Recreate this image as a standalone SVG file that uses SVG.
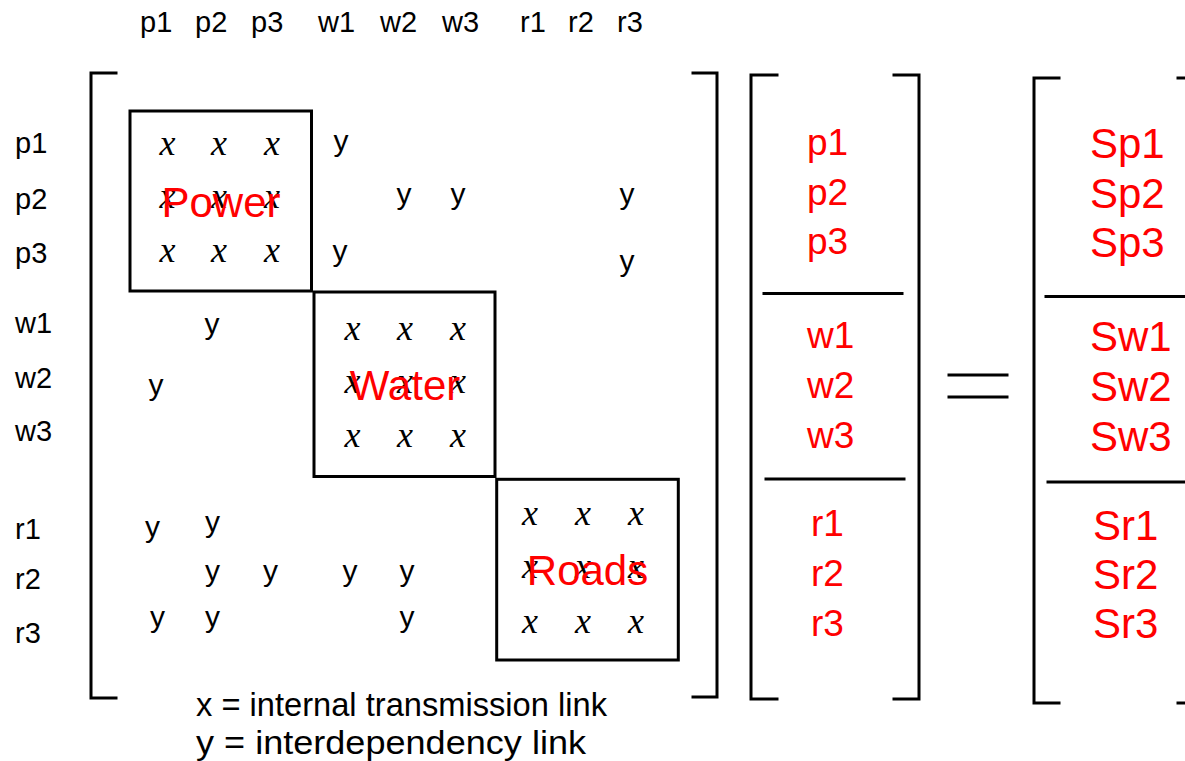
<svg xmlns="http://www.w3.org/2000/svg" width="1185" height="761" viewBox="0 0 1185 761">
<style>
.ln{stroke:#000;stroke-width:3;fill:none;stroke-linecap:square}
.bx{stroke:#000;stroke-width:3;fill:none}
.lb{font-family:"Liberation Sans",Arial,sans-serif;font-size:29px;fill:#000}
.y{font-family:"Liberation Sans",Arial,sans-serif;font-size:30px;fill:#000;text-anchor:middle}
.x{font-family:"Liberation Serif","Times New Roman",serif;font-style:italic;font-size:36px;fill:#000;text-anchor:middle}
.nm{font-family:"Liberation Sans",Arial,sans-serif;font-size:42px;fill:#f00;text-anchor:middle}
.rv{font-family:"Liberation Sans",Arial,sans-serif;font-size:37px;fill:#f00}
.sv{font-family:"Liberation Sans",Arial,sans-serif;font-size:42px;fill:#f00}
.lg{font-family:"Liberation Sans",Arial,sans-serif;font-size:33px;fill:#000}
</style>
<rect width="1185" height="761" fill="#fff"/>
<g id="headers">
<text class="lb" x="140" y="32">p1</text>
<text class="lb" x="195" y="32">p2</text>
<text class="lb" x="251" y="32">p3</text>
<text class="lb" x="318" y="32">w1</text>
<text class="lb" x="380" y="32">w2</text>
<text class="lb" x="442" y="32">w3</text>
<text class="lb" x="520" y="32">r1</text>
<text class="lb" x="568" y="32">r2</text>
<text class="lb" x="617" y="32">r3</text>
</g>
<g id="rowlabels">
<text class="lb" x="15" y="153">p1</text>
<text class="lb" x="15" y="209">p2</text>
<text class="lb" x="15" y="263">p3</text>
<text class="lb" x="15" y="333">w1</text>
<text class="lb" x="15" y="388">w2</text>
<text class="lb" x="15" y="441">w3</text>
<text class="lb" x="15" y="539">r1</text>
<text class="lb" x="15" y="589">r2</text>
<text class="lb" x="15" y="643">r3</text>
</g>
<g id="matrix-bracket">
<path class="ln" d="M116,73 H91 V698 H116"/>
<path class="ln" d="M693,73 H717 V697 H693"/>
</g>
<g id="power">
<rect class="bx" x="130" y="111" width="181.5" height="180"/>
<text class="x" x="167.5" y="155">x</text><text class="x" x="219" y="155">x</text><text class="x" x="272" y="155">x</text>
<text class="x" x="167.5" y="208">x</text><text class="x" x="219" y="208">x</text><text class="x" x="272" y="208">x</text>
<text class="x" x="167.5" y="262">x</text><text class="x" x="219" y="262">x</text><text class="x" x="272" y="262">x</text>
<text class="nm" x="221" y="217">Power</text>
</g>
<g id="water">
<rect class="bx" x="314" y="292" width="181" height="184.5"/>
<text class="x" x="352.5" y="340">x</text><text class="x" x="405" y="340">x</text><text class="x" x="458" y="340">x</text>
<text class="x" x="352.5" y="393">x</text><text class="x" x="405" y="393">x</text><text class="x" x="458" y="393">x</text>
<text class="x" x="352.5" y="447">x</text><text class="x" x="405" y="447">x</text><text class="x" x="458" y="447">x</text>
<text class="nm" x="405" y="400">Water</text>
</g>
<g id="roads">
<rect class="bx" x="496.7" y="479.3" width="181.6" height="180.7"/>
<text class="x" x="530" y="525">x</text><text class="x" x="583" y="525">x</text><text class="x" x="636" y="525">x</text>
<text class="x" x="530" y="578">x</text><text class="x" x="583" y="578">x</text><text class="x" x="636" y="578">x</text>
<text class="x" x="530" y="633">x</text><text class="x" x="583" y="633">x</text><text class="x" x="636" y="633">x</text>
<text class="nm" x="587.5" y="585">Roads</text>
</g>
<g id="interdependencies">
<text class="y" x="341" y="151">y</text>
<text class="y" x="404" y="204">y</text><text class="y" x="458" y="204">y</text><text class="y" x="627" y="204">y</text>
<text class="y" x="340" y="261">y</text><text class="y" x="627" y="271">y</text>
<text class="y" x="212" y="334">y</text>
<text class="y" x="156" y="395">y</text>
<text class="y" x="152.5" y="537">y</text><text class="y" x="212.5" y="532">y</text>
<text class="y" x="212.5" y="581">y</text><text class="y" x="270.5" y="581">y</text><text class="y" x="350" y="581">y</text><text class="y" x="407" y="581">y</text>
<text class="y" x="157.5" y="627">y</text><text class="y" x="212.5" y="627">y</text><text class="y" x="407" y="627">y</text>
</g>
<g id="vector-x">
<path class="ln" d="M777,75 H751 V699 H777"/>
<path class="ln" d="M894,75 H919 V699 H894"/>
<line class="ln" x1="764" y1="293.5" x2="902" y2="293.5"/>
<line class="ln" x1="766" y1="479" x2="904" y2="479"/>
<text class="rv" x="807" y="155">p1</text>
<text class="rv" x="807" y="205">p2</text>
<text class="rv" x="807" y="254">p3</text>
<text class="rv" x="807" y="348">w1</text>
<text class="rv" x="807" y="398">w2</text>
<text class="rv" x="807" y="448">w3</text>
<text class="rv" x="811" y="536">r1</text>
<text class="rv" x="811" y="586">r2</text>
<text class="rv" x="811" y="636">r3</text>
</g>
<g id="equals">
<line class="ln" x1="949" y1="375" x2="1007" y2="375"/>
<line class="ln" x1="949" y1="397" x2="1007" y2="397"/>
</g>
<g id="vector-s">
<path class="ln" d="M1059,78 H1034 V703 H1059"/>
<line class="ln" x1="1178" y1="78" x2="1190" y2="78"/>
<line class="ln" x1="1178" y1="703" x2="1190" y2="703"/>
<line class="ln" x1="1046" y1="296.5" x2="1190" y2="296.5"/>
<line class="ln" x1="1048" y1="482" x2="1190" y2="482"/>
<text class="sv" x="1090" y="158">Sp1</text>
<text class="sv" x="1090" y="208">Sp2</text>
<text class="sv" x="1090" y="257">Sp3</text>
<text class="sv" x="1090" y="351">Sw1</text>
<text class="sv" x="1090" y="401">Sw2</text>
<text class="sv" x="1090" y="451">Sw3</text>
<text class="sv" x="1093" y="540">Sr1</text>
<text class="sv" x="1093" y="589">Sr2</text>
<text class="sv" x="1093" y="638">Sr3</text>
</g>
<g id="legend">
<text class="lg" x="196" y="716" textLength="411" lengthAdjust="spacingAndGlyphs">x = internal transmission link</text>
<text class="lg" x="196" y="754" textLength="390" lengthAdjust="spacingAndGlyphs">y = interdependency link</text>
</g>
</svg>
